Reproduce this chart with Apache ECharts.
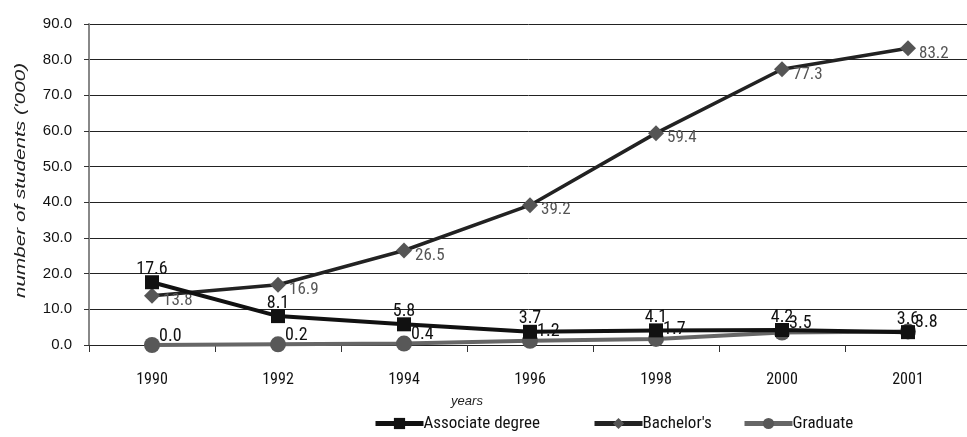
<!DOCTYPE html>
<html><head><meta charset="utf-8">
<script src="https://cdn.jsdelivr.net/npm/echarts@6/dist/echarts.min.js"></script>
<style>html,body{margin:0;padding:0;background:#fff}#c{width:967px;height:437px}</style>
</head><body><div id="c"></div>
<script>
const years = ['1990','1992','1994','1996','1998','2000','2001'];
const associate = [17.6, 8.1, 5.8, 3.7, 4.1, 4.2, 3.6];
const bachelors = [13.8, 16.9, 26.5, 39.2, 59.4, 77.3, 83.2];
const graduate = [0.0, 0.2, 0.4, 1.2, 1.7, 3.5, 3.8];
const yTicks = [0, 10, 20, 30, 40, 50, 60, 70, 80, 90];
const seriesNames = ['Associate degree', "Bachelor's", 'Graduate'];
const yTitle = "number of students ('000)";
const xTitle = 'years';

const narrow = '"Roboto Condensed", "Liberation Sans", sans-serif';
const arial = '"Liberation Sans", Arial, sans-serif';
const chart = echarts.init(document.getElementById('c'));
const fmt = p => p.value.toFixed(1);
const legendBase = {
  top: 410, itemWidth: 48, itemHeight: 14, itemGap: 0,
  textStyle: {fontFamily: narrow, fontSize: 17, color: '#111', padding: [0, 0, 0, -5]}
};
chart.setOption({
  animation: false,
  grid: {left: 89, width: 882, top: 24, height: 321, outerBoundsMode: 'none', containLabel: false},
  legend: [
    Object.assign({}, legendBase, {left: 368, data: [seriesNames[0]], lineStyle: {width: 5}}),
    Object.assign({}, legendBase, {left: 587, data: [seriesNames[1]], lineStyle: {width: 5}}),
    Object.assign({}, legendBase, {left: 737, data: [seriesNames[2]], lineStyle: {width: 5}})
  ],
  graphic: [{
    type: 'text', x: 21, y: 298, rotation: Math.PI / 2, scaleX: 1.38,
    style: {text: yTitle, font: 'italic 15px "Liberation Sans", Arial, sans-serif', fill: '#222',
            textAlign: 'left', textVerticalAlign: 'middle'}
  }],
  xAxis: {
    type: 'category', data: years, boundaryGap: true,
    name: xTitle, nameLocation: 'middle', nameGap: 50,
    nameTextStyle: {fontStyle: 'italic', fontFamily: arial, fontSize: 13, color: '#222', padding: [0, 126, 0, 0]},
    axisLine: {show: false},
    axisTick: {show: true, alignWithLabel: false, length: 7, lineStyle: {color: '#333'}},
    axisLabel: {color: '#111', fontSize: 16, fontFamily: narrow, margin: 27}
  },
  yAxis: {
    type: 'value', min: yTicks[0], max: yTicks[yTicks.length-1], interval: 10,
    axisLine: {show: true, lineStyle: {color: '#888', width: 2}},
    axisTick: {show: true, length: 5, lineStyle: {color: '#333'}},
    axisLabel: {color: '#111', fontSize: 15, fontFamily: arial, formatter: v => v.toFixed(1), margin: 17},
    splitLine: {lineStyle: {color: '#222', width: 1}}
  },
  series: [
    {
      name: seriesNames[2], type: 'line', data: graduate, z: 2,
      symbol: 'circle', symbolSize: 16,
      lineStyle: {color: '#666', width: 4}, itemStyle: {color: '#585858'},
      label: {show: true, position: 'right', offset: [-6, -9], formatter: fmt, fontFamily: narrow, fontSize: 18, color: '#111'}
    },
    {
      name: seriesNames[1], type: 'line', data: bachelors, z: 3,
      symbol: 'diamond', symbolSize: [16, 16],
      lineStyle: {color: '#222', width: 3.5}, itemStyle: {color: '#555'},
      label: {show: true, position: 'right', offset: [-2, 5], formatter: fmt, fontFamily: narrow, fontSize: 17, color: '#555'}
    },
    {
      name: seriesNames[0], type: 'line', data: associate, z: 4,
      symbol: 'rect', symbolSize: 14,
      lineStyle: {color: '#111', width: 4}, itemStyle: {color: '#111'},
      label: {show: true, position: 'top', distance: -3, formatter: fmt, fontFamily: narrow, fontSize: 18, color: '#111'}
    }
  ]
});
</script></body></html>
